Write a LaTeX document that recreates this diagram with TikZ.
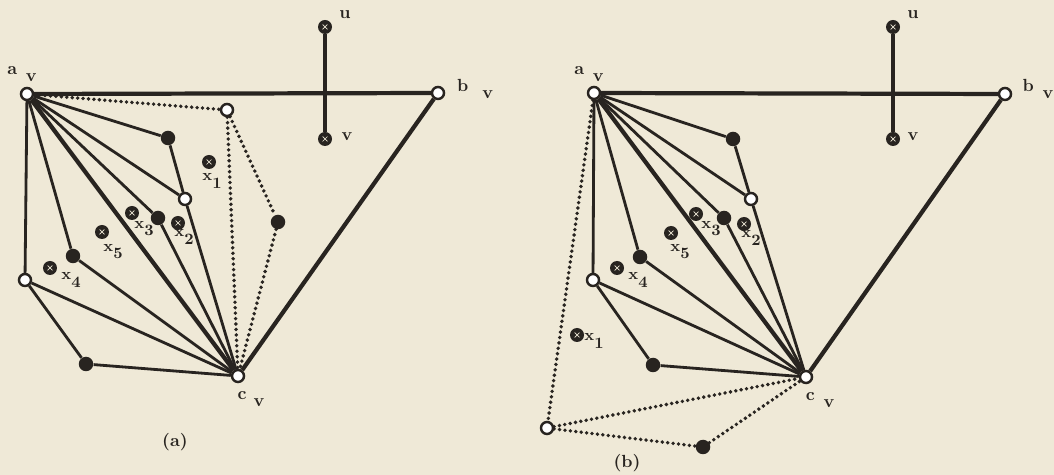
\documentclass[tikz,border=0pt]{standalone}
\usepackage{tikz}
\definecolor{paper}{RGB}{239,233,215}
\definecolor{ink}{RGB}{40,36,32}

\begin{document}
\begin{tikzpicture}[x=0.02cm,y=-0.02cm,
    whitept/.style={circle,draw=ink,fill=white,line width=1.4pt,minimum size=0.24cm,inner sep=0pt},
    blackpt/.style={circle,fill=ink,minimum size=0.29cm,inner sep=0pt},
    xpt/.style={circle,fill=ink,minimum size=0.28cm,inner sep=0pt,
                path picture={\draw[paper,line width=0.4pt] (path picture bounding box.center)
                  +(-1.4pt,-1.4pt) -- +(1.4pt,1.4pt) +(-1.4pt,1.4pt) -- +(1.4pt,-1.4pt);}},
    lbl/.style={font=\normalsize\bfseries,text=ink,inner sep=0pt},
    xlbl/.style={font=\small\bfseries,text=ink,inner sep=0pt},
    heavy/.style={ink,line width=2.4pt},
    seg/.style={ink,line width=1.6pt},
    dotline/.style={ink,line width=2.2pt,line cap=round,dash pattern=on 0pt off 3.1pt}]
  \fill[paper] (0,0) rectangle (1054,475);

  % (a)
  \node[whitept] (a1) at (27,94)  {};
  \node[whitept] (b1) at (438,93) {};
  \node[whitept] (c1) at (238,376) {};
  \node[xpt]     (u1) at (325,27)  {};
  \node[xpt]     (v1) at (325,139) {};
  \node[blackpt] (d1) at (168,138) {};
  \node[whitept] (e1) at (185,199) {};
  \node[blackpt] (f1) at (158,218) {};
  \node[blackpt] (g1) at (73,256)  {};
  \node[whitept] (h1) at (25,280)  {};
  \node[blackpt] (k1) at (86,364)  {};
  \node[whitept] (p1) at (227,110) {};
  \node[blackpt] (q1) at (278,222) {};
  \node[xpt] (x11) at (209,162) {};
  \node[xpt] (x21) at (178,223) {};
  \node[xpt] (x31) at (132,213) {};
  \node[xpt] (x51) at (102,232) {};
  \node[xpt] (x41) at (50,268)  {};

  \draw[heavy] (a1) -- (b1) -- (c1) -- (a1);
  \draw[heavy] (u1) -- (v1);
  \draw[seg] (a1) -- (d1) -- (e1) -- (c1);
  \draw[seg] (a1) -- (e1);
  \draw[seg] (a1) -- (f1) -- (c1);
  \draw[seg] (a1) -- (g1) -- (c1);
  \draw[seg] (a1) -- (h1) -- (c1);
  \draw[seg] (h1) -- (k1) -- (c1);
  \draw[dotline] (a1) -- (p1) -- (c1);
  \draw[dotline] (p1) -- (q1) -- (c1);

  \node[lbl] (a1l) at (22,74)  {a\hspace{5pt}\raisebox{-4pt}{v}};
  \node[lbl] (b1l) at (475,89) {b\hspace{8pt}\raisebox{-4pt}{v}};
  \node[lbl] (c1l) at (251,399) {c\hspace{4pt}\raisebox{-4pt}{v}};
  \node[lbl] (u1l) at (345,15)  {u};
  \node[lbl] (v1l) at (347,137) {v};
  \node[xlbl] (x11l) at (212,181) {x\raisebox{-4pt}{1}};
  \node[xlbl] (x21l) at (184,237) {x\raisebox{-4pt}{2}};
  \node[xlbl] (x31l) at (144,229) {x\raisebox{-4pt}{3}};
  \node[xlbl] (x51l) at (113,252) {x\raisebox{-4pt}{5}};
  \node[xlbl] (x41l) at (71,280)  {x\raisebox{-4pt}{4}};
  \node[lbl] (capa) at (175,442) {(a)};

  % (b)
  \node[whitept] (a2) at (594,93)  {};
  \node[whitept] (b2) at (1005,94) {};
  \node[whitept] (c2) at (806,377) {};
  \node[xpt]     (u2) at (893,27)  {};
  \node[xpt]     (v2) at (893,139) {};
  \node[blackpt] (d2) at (733,139) {};
  \node[whitept] (e2) at (751,199) {};
  \node[blackpt] (f2) at (724,218) {};
  \node[blackpt] (g2) at (640,257) {};
  \node[whitept] (h2) at (593,280) {};
  \node[blackpt] (k2) at (653,365) {};
  \node[whitept] (p2) at (547,428) {};
  \node[blackpt] (q2) at (703,447) {};
  \node[xpt] (x12) at (577,335) {};
  \node[xpt] (x22) at (744,224) {};
  \node[xpt] (x32) at (696,214) {};
  \node[xpt] (x52) at (671,233) {};
  \node[xpt] (x42) at (617,268) {};

  \draw[heavy] (a2) -- (b2) -- (c2) -- (a2);
  \draw[heavy] (u2) -- (v2);
  \draw[seg] (a2) -- (d2) -- (e2) -- (c2);
  \draw[seg] (a2) -- (e2);
  \draw[seg] (a2) -- (f2) -- (c2);
  \draw[seg] (a2) -- (g2) -- (c2);
  \draw[seg] (a2) -- (h2) -- (c2);
  \draw[seg] (h2) -- (k2) -- (c2);
  \draw[dotline] (a2) -- (p2) -- (c2);
  \draw[dotline] (p2) -- (q2) -- (c2);

  \node[lbl] (a2l) at (589,74)  {a\hspace{5pt}\raisebox{-4pt}{v}};
  \node[lbl] (b2l) at (1038,89) {b\hspace{5pt}\raisebox{-4pt}{v}};
  \node[lbl] (c2l) at (820,400) {c\hspace{5pt}\raisebox{-4pt}{v}};
  \node[lbl] (u2l) at (913,15)  {u};
  \node[lbl] (v2l) at (913,137) {v};
  \node[xlbl] (x12l) at (594,341) {x\raisebox{-4pt}{1}};
  \node[xlbl] (x22l) at (751,238) {x\raisebox{-4pt}{2}};
  \node[xlbl] (x32l) at (711,229) {x\raisebox{-4pt}{3}};
  \node[xlbl] (x52l) at (680,252) {x\raisebox{-4pt}{5}};
  \node[xlbl] (x42l) at (638,280) {x\raisebox{-4pt}{4}};
  \node[lbl] (capb) at (627,463) {(b)};
\end{tikzpicture}
\end{document}
